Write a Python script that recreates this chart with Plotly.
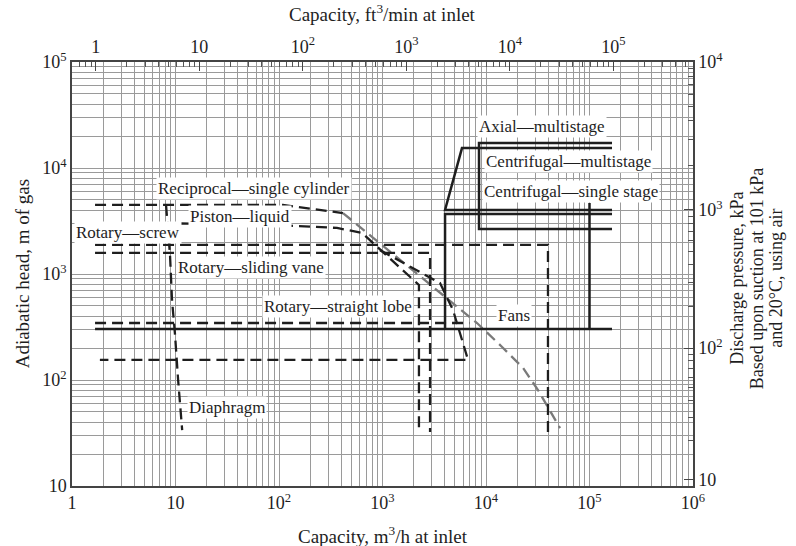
import numpy as np
import plotly.graph_objects as go

SERIF = "Liberation Serif, Times New Roman, serif"
INK = "#1e1e1e"
GRID = "#9a9a9a"

M3H_PER_CFM = 1.699  # 1 ft3/min expressed in m3/h

# ---- boundary lines: capacity (m3/h at inlet) and adiabatic head (m of gas) ----
recip_top_q = [1.67, 109, 415]
recip_top_h = [4480, 4480, 3760]
recip_curve_q = [415, 1845, 8180, 14300, 22800, 31800, 43400, 51900]
recip_curve_h = [3760, 1140, 345, 205, 130, 80.5, 46.8, 35.2]

piston_q = [1.67, 52.5, 363, 634, 2250, 2250]
piston_h = [3025, 2970, 2720, 2440, 788, 35.2]

screw_q = [1.67, 39700, 39700]
screw_h = [1880, 1880, 31.6]

vane_q = [1.67, 2880, 2880]
vane_h = [1580, 1580, 32.3]

lobe_q = [1.67, 6900]
lobe_h = [345, 345]
lobe_low_q = [946, 3595, 4800, 6700, 1.86]
lobe_low_h = [1680, 822, 457, 155, 155]

diaphragm_q = [8.1, 8.85, 9.25, 9.9, 10.6, 11.6]
diaphragm_h = [4480, 1510, 569, 266, 100, 33.7]

fans_q = [1.67, 165000]
fans_h = [303, 303]

axial_q = [165000, 8560, 8560, 165000]
axial_h = [17200, 17200, 2660, 2660]

cent_multi_q = [165000, 5860, 4020, 165000]
cent_multi_h = [15400, 15400, 4020, 4020]

cent_single_q = [165000, 4020, 4020]
cent_single_h = [3680, 3680, 303]
cent_single_edge_q = [1e5, 1e5]
cent_single_edge_h = [4680, 303]

# ---- right-hand scale: discharge pressure (kPa) against head (m) ----
kpa_decades = [10, 100, 1000, 10000]
kpa_head = [11.4, 200, 4020, 100000]
kpa_labels = ["10", "10<sup>2</sup>", "10<sup>3</sup>", "10<sup>4</sup>"]

# ---- tick labels ----
q_ticks = [1, 10, 100, 1e3, 1e4, 1e5, 1e6]
q_labels = ["1", "10", "10<sup>2</sup>", "10<sup>3</sup>", "10<sup>4</sup>", "10<sup>5</sup>", "10<sup>6</sup>"]
cfm_ticks = [1, 10, 100, 1e3, 1e4, 1e5]
cfm_labels = ["1", "10", "10<sup>2</sup>", "10<sup>3</sup>", "10<sup>4</sup>", "10<sup>5</sup>"]
h_ticks = [10, 100, 1e3, 1e4, 1e5]
h_labels = ["10", "10<sup>2</sup>", "10<sup>3</sup>", "10<sup>4</sup>", "10<sup>5</sup>"]

# ---- region labels: (text, capacity m3/h, head m) ----
region_labels = [
    ("Reciprocal\u2014single cylinder", 57.3, 6340),
    ("Piston\u2014liquid", 42, 3450),
    ("Rotary\u2014screw", 3.48, 2440),
    ("Rotary\u2014sliding vane", 53.6, 1140),
    ("Rotary\u2014straight lobe", 372, 499),
    ("Diaphragm", 31.4, 54.5),
    ("Fans", 18700, 410),
    ("Axial\u2014multistage", 34800, 24900),
    ("Centrifugal\u2014multistage", 62000, 11400),
    ("Centrifugal\u2014single stage", 66300, 5940),
]

right_title_lines = [
    "Discharge pressure, kPa",
    "Based upon suction at 101 kPa",
    "and 20\u00b0C, using air",
]


def minor_vals(lo_exp, hi_exp, scale=1.0):
    vals = []
    for e in range(lo_exp, hi_exp + 1):
        for m in range(2, 10):
            vals.append(m * 10.0 ** e * scale)
    return vals


def kpa_to_head(k):
    return 10 ** np.interp(np.log10(k), np.log10(kpa_decades), np.log10(kpa_head))


fig = go.Figure()

DASH = "11px,6px"


def add_line(q, h, dash=None, width=2.3, color=INK):
    fig.add_trace(go.Scatter(
        x=q, y=h, mode="lines", showlegend=False, hoverinfo="skip",
        line=dict(color=color, width=width, dash=dash)))


add_line(recip_top_q, recip_top_h, DASH)
add_line(recip_curve_q, recip_curve_h, DASH, color="#7a7a7a")
add_line(piston_q, piston_h, DASH)
add_line(screw_q, screw_h, DASH)
add_line(vane_q, vane_h, DASH)
add_line(lobe_q, lobe_h, DASH)
add_line(lobe_low_q, lobe_low_h, DASH)
add_line(diaphragm_q, diaphragm_h, DASH)

add_line(fans_q, fans_h, None, 2.5)
add_line(axial_q, axial_h, None, 2.5)
add_line(cent_multi_q, cent_multi_h, None, 2.5)
add_line(cent_single_q, cent_single_h, None, 2.5)
add_line(cent_single_edge_q, cent_single_edge_h, None, 2.5)

# invisible anchor trace for the secondary (top / right) axes
fig.add_trace(go.Scatter(x=[10], y=[100], xaxis="x2", yaxis="y2", mode="markers",
                         marker=dict(opacity=0), showlegend=False, hoverinfo="skip"))

for text, q, h in region_labels:
    fig.add_annotation(x=np.log10(q), y=np.log10(h), xref="x", yref="y", text=text,
                       showarrow=False, bgcolor="white", borderpad=1,
                       font=dict(family=SERIF, size=17, color=INK))

tickfont = dict(family=SERIF, size=18, color=INK)
grid_minor = dict(showgrid=True, gridcolor=GRID, gridwidth=1, ticks="")

fig.update_layout(
    width=796, height=546,
    margin=dict(l=72, r=103, t=62, b=60),
    paper_bgcolor="white", plot_bgcolor="white",
    xaxis=dict(type="log", range=[0, 6], tickmode="array", tickvals=q_ticks, ticktext=q_labels,
               showgrid=True, gridcolor=GRID, gridwidth=1, ticks="",
               minor=dict(tickmode="array", tickvals=minor_vals(0, 5), **grid_minor),
               showline=True, linecolor="#444", linewidth=1.5, tickfont=tickfont,
               zeroline=False),
    yaxis=dict(type="log", range=[1, 5], tickmode="array", tickvals=h_ticks, ticktext=h_labels,
               showgrid=True, gridcolor=GRID, gridwidth=1, ticks="",
               minor=dict(tickmode="array", tickvals=minor_vals(1, 4), **grid_minor),
               showline=True, linecolor="#444", linewidth=1.5, tickfont=tickfont,
               zeroline=False),
    xaxis2=dict(type="log", overlaying="x", side="top",
                range=[-np.log10(M3H_PER_CFM), 6 - np.log10(M3H_PER_CFM)],
                tickmode="array", tickvals=cfm_ticks, ticktext=cfm_labels,
                ticks="inside", ticklen=9, tickcolor="#444", tickwidth=1,
                minor=dict(tickmode="array", tickvals=minor_vals(-1, 5), ticks="inside",
                           ticklen=5, tickcolor="#555", showgrid=False),
                showgrid=False, showline=True, linecolor="#444", linewidth=1.5,
                tickfont=tickfont, zeroline=False),
    yaxis2=dict(type="log", overlaying="y", side="right", range=[1, 5],
                tickmode="array", tickvals=[float(v) for v in kpa_head], ticktext=kpa_labels,
                ticks="inside", ticklen=9, tickcolor="#444", tickwidth=1,
                minor=dict(tickmode="array",
                           tickvals=[float(kpa_to_head(k)) for k in minor_vals(1, 3)],
                           ticks="inside", ticklen=5, tickcolor="#555", showgrid=False),
                showgrid=False, showline=True, linecolor="#444", linewidth=1.5,
                tickfont=tickfont, zeroline=False),
)

titlefont = dict(family=SERIF, size=19, color=INK)
fig.add_annotation(x=0.5, y=-0.115, xref="paper", yref="paper", yanchor="middle",
                   text="Capacity, m<sup>3</sup>/h at inlet", showarrow=False, font=titlefont)
fig.add_annotation(x=0.5, y=1.115, xref="paper", yref="paper", yanchor="middle",
                   text="Capacity, ft<sup>3</sup>/min at inlet", showarrow=False, font=titlefont)
fig.add_annotation(x=-0.08, y=0.5, xref="paper", yref="paper", xanchor="center",
                   text="Adiabatic head, m of gas", textangle=-90, showarrow=False,
                   font=titlefont)

# right-hand title, one annotation per line for tight line spacing
for i, line in enumerate(right_title_lines):
    fig.add_annotation(x=1.0715 + 0.0315 * i, y=0.49, xref="paper", yref="paper",
                       xanchor="center", yanchor="middle", text=line, textangle=-90,
                       showarrow=False, font=dict(family=SERIF, size=18, color=INK))

fig.write_html("out.html")
